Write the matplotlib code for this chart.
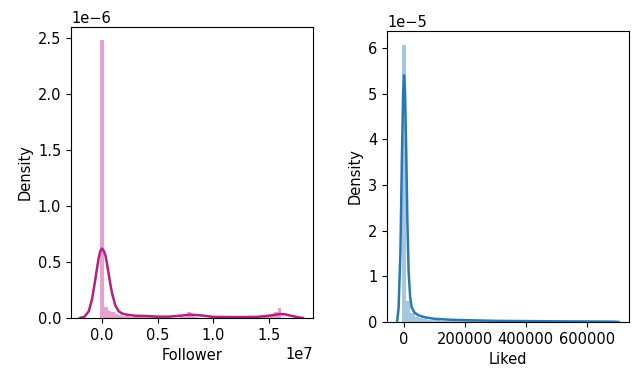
import numpy as np
import matplotlib

matplotlib.use("Agg")
import matplotlib.pyplot as plt  # noqa: E402

# Follower: histogram (50 bins) and KDE, x in units of 1e7, y in units of 1e-6
follower_bin_width = 0.0326
follower_hist = [
    2.48, 0.10, 0.06, 0.05, 0.035, 0.025, 0.02, 0.015, 0.012, 0.01,
    0.01, 0.008, 0.008, 0.006, 0.006, 0.005, 0.005, 0.004, 0.004, 0.004,
    0.004, 0.004, 0.006, 0.01, 0.05, 0.02, 0.006, 0.004, 0.004, 0.004,
    0.003, 0.003, 0.003, 0.003, 0.003, 0.003, 0.003, 0.003, 0.003, 0.003,
    0.003, 0.003, 0.004, 0.004, 0.005, 0.006, 0.01, 0.02, 0.05, 0.09,
]
follower_kde_x = [
    -0.20, -0.16, -0.12, -0.09, -0.06, -0.045, -0.03, -0.015, 0.0, 0.015,
    0.03, 0.045, 0.06, 0.075, 0.09, 0.12, 0.15, 0.18, 0.22, 0.30,
    0.40, 0.50, 0.60, 0.70, 0.80, 0.90, 1.00, 1.20, 1.40, 1.50,
    1.60, 1.65, 1.70, 1.76, 1.81,
]
follower_kde_y = [
    0.0, 0.01, 0.06, 0.17, 0.35, 0.45, 0.54, 0.60, 0.62, 0.60,
    0.56, 0.48, 0.39, 0.30, 0.22, 0.11, 0.06, 0.04, 0.03, 0.02,
    0.018, 0.012, 0.012, 0.02, 0.03, 0.022, 0.01, 0.008, 0.01, 0.02,
    0.035, 0.033, 0.02, 0.008, 0.0,
]

# Liked: histogram (50 bins) and KDE, y in units of 1e-5
liked_bin_width = 14000
liked_hist = [
    6.07, 0.45, 0.2, 0.12, 0.08, 0.06, 0.05, 0.04, 0.035, 0.03,
    0.03, 0.025, 0.02, 0.02, 0.018, 0.015, 0.015, 0.012, 0.012, 0.01,
    0.01, 0.01, 0.01, 0.01, 0.008, 0.008, 0.008, 0.008, 0.008, 0.006,
    0.006, 0.006, 0.006, 0.006, 0.006, 0.006, 0.005, 0.005, 0.005, 0.005,
    0.005, 0.005, 0.005, 0.005, 0.005, 0.005, 0.005, 0.005, 0.005, 0.008,
]
liked_kde_x = [
    -23000, -18000, -12000, -7000, -3000, 0, 3000, 7000, 11000, 15000,
    20000, 25000, 35000, 50000, 70000, 100000, 150000, 200000, 300000, 400000,
    500000, 600000, 690000, 705000,
]
liked_kde_y = [
    0.0, 0.3, 1.5, 3.6, 5.0, 5.4, 5.1, 3.8, 2.2, 1.1,
    0.55, 0.32, 0.2, 0.14, 0.1, 0.07, 0.05, 0.04, 0.025, 0.02,
    0.015, 0.012, 0.008, 0.0,
]

plt.rcParams["font.size"] = 10.5

fig = plt.figure(figsize=(6.33, 3.76), dpi=100)
ax1 = fig.add_axes([71 / 633, 58 / 376, 242 / 633, 291 / 376])
ax2 = fig.add_axes([387 / 633, 54 / 376, 242 / 633, 291 / 376])

# left panel
f_edges = (np.arange(len(follower_hist)) - 0.5) * follower_bin_width * 1e7
ax1.bar(f_edges, np.array(follower_hist) * 1e-6, width=follower_bin_width * 1e7,
        align="edge", color="#c71585", alpha=0.4, linewidth=0)
ax1.plot(np.array(follower_kde_x) * 1e7, np.array(follower_kde_y) * 1e-6,
         color="#b5207e", linewidth=1.8)
ax1.set_xlim(-0.28e7, 1.9e7)
ax1.set_ylim(0, 2.6e-6)
ax1.set_xlabel("Follower")
ax1.set_ylabel("Density")

# right panel
l_edges = (np.arange(len(liked_hist)) - 0.5) * liked_bin_width
ax2.bar(l_edges, np.array(liked_hist) * 1e-5, width=liked_bin_width,
        align="edge", color="#1f77b4", alpha=0.4, linewidth=0)
ax2.plot(liked_kde_x, np.array(liked_kde_y) * 1e-5, color="#2878b5", linewidth=1.8)
ax2.set_xlim(-56000, 739000)
ax2.set_ylim(0, 6.37e-5)
ax2.set_xticks([0, 200000, 400000, 600000])
ax2.set_xlabel("Liked")
ax2.set_ylabel("Density")

fig.savefig("out.png", dpi=100)
